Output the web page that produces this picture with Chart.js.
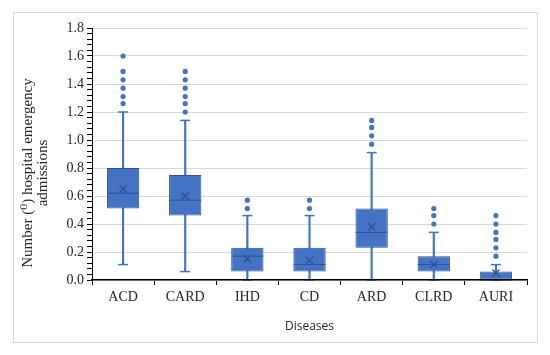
<!DOCTYPE html>
<html>
<head>
<meta charset="utf-8">
<script src="https://cdn.jsdelivr.net/npm/chart.js@4/dist/chart.umd.min.js"></script>
<style>
  body { margin: 0; background: #fff; }
  .wrap { position: relative; width: 550px; height: 355px; }
  .frame { position: absolute; left: 13px; top: 12px; width: 523px; height: 329px; border: 1px solid #d9d9d9; }
  canvas { position: absolute; left: 0; top: 0; }
</style>
</head>
<body>
<div class="wrap">
  <div class="frame"></div>
  <canvas id="chart" width="550" height="355"></canvas>
</div>
<script>
const categories = ["ACD", "CARD", "IHD", "CD", "ARD", "CLRD", "AURI"];
const whiskerLow = [0.11, 0.06, 0, 0, 0, 0, 0];
const q1 = [0.51, 0.46, 0.06, 0.06, 0.23, 0.06, 0];
const median = [0.62, 0.57, 0.17, 0.11, 0.34, 0.11, 0];
const q3 = [0.80, 0.75, 0.23, 0.23, 0.51, 0.17, 0.06];
const whiskerHigh = [1.20, 1.14, 0.46, 0.46, 0.91, 0.34, 0.11];
const mean = [0.65, 0.60, 0.15, 0.14, 0.38, 0.11, 0.05];
const outliers = [
  [1.26, 1.31, 1.37, 1.43, 1.49, 1.60],
  [1.20, 1.26, 1.31, 1.37, 1.43, 1.49],
  [0.51, 0.57],
  [0.51, 0.57],
  [0.97, 1.03, 1.09, 1.14],
  [0.40, 0.46, 0.51],
  [0.17, 0.23, 0.29, 0.34, 0.40, 0.46],
];
const yTitle = ["Number (\u2070) hospital emergency", "admissions"];
const xTitle = "Diseases";

const blue = "#4472C4";
const darkBlue = "#2F528F";
const serif = "'Liberation Serif', 'DejaVu Serif', serif";

const isMajor = (v) => Math.abs(v / 0.2 - Math.round(v / 0.2)) < 1e-6;

// rotated y title, centred a bit lower than the axis like the original
const yTitlePlugin = {
  id: "yTitle",
  afterDraw(chart) {
    const ctx = chart.ctx;
    ctx.save();
    ctx.translate(28, 173);
    ctx.rotate(-Math.PI / 2);
    ctx.font = "15px " + serif;
    ctx.fillStyle = "#262626";
    ctx.textAlign = "center";
    ctx.textBaseline = "middle";
    yTitle.forEach((line, i) => ctx.fillText(line, 0, i * 15));
    ctx.restore();
  },
};

const pts = (arr) => categories.map((c, i) => ({ x: c, y: arr[i] }));
const outlierPts = [];
categories.forEach((c, i) => outliers[i].forEach((v) => outlierPts.push({ x: c, y: v })));

new Chart(document.getElementById("chart"), {
  type: "bar",
  data: {
    labels: categories,
    datasets: [
      {
        label: "outliers",
        type: "scatter",
        data: outlierPts,
        pointStyle: "circle",
        pointRadius: 2.6,
        backgroundColor: blue,
        borderWidth: 0,
        clip: false,
        order: 0,
      },
      {
        label: "mean",
        type: "scatter",
        data: pts(mean),
        pointStyle: "crossRot",
        pointRadius: 5,
        borderColor: darkBlue,
        borderWidth: 1.3,
        clip: false,
        order: 1,
      },
      {
        label: "median",
        type: "scatter",
        data: pts(median),
        pointStyle: "line",
        pointRadius: 16,
        borderColor: darkBlue,
        borderWidth: 1,
        clip: false,
        order: 2,
      },
      {
        label: "caps",
        type: "scatter",
        data: pts(whiskerHigh).concat(pts(whiskerLow)),
        pointStyle: "line",
        pointRadius: 5,
        borderColor: blue,
        borderWidth: 1.5,
        clip: false,
        order: 3,
      },
      {
        label: "box",
        data: categories.map((c, i) => [q1[i], q3[i]]),
        backgroundColor: blue,
        borderColor: darkBlue,
        borderWidth: 1,
        borderSkipped: false,
        barPercentage: 0.52,
        categoryPercentage: 1,
        grouped: false,
        order: 4,
      },
      {
        label: "whisker",
        data: categories.map((c, i) => [whiskerLow[i], whiskerHigh[i]]),
        backgroundColor: blue,
        barThickness: 1.5,
        grouped: false,
        order: 5,
      },
    ],
  },
  options: {
    responsive: false,
    animation: false,
    events: [],
    layout: { padding: { left: 18, right: 23, top: 28, bottom: 21 } },
    scales: {
      x: {
        type: "category",
        offset: true,
        grid: { offset: true, drawOnChartArea: false, tickLength: 5, tickColor: "#000", tickWidth: 1 },
        border: { color: "#000", width: 1.5, z: 1 },
        ticks: { font: { family: serif, size: 14 }, color: "#262626", padding: 4 },
        title: {
          display: true,
          text: xTitle,
          font: { family: "'Open Sans', sans-serif", size: 12 },
          color: "#262626",
          padding: 0,
        },
        afterFit: (scale) => { scale.height = 54; },
      },
      y: {
        min: 0,
        max: 1.8,
        ticks: {
          stepSize: 0.04,
          maxTicksLimit: 100,
          autoSkip: false,
          font: { family: serif, size: 14 },
          color: "#262626",
          padding: 3,
          callback: (v) => (isMajor(v) ? v.toFixed(1) : ""),
        },
        grid: {
          color: (ctx) => (ctx.tick && isMajor(ctx.tick.value) ? "#d9d9d9" : "rgba(0,0,0,0)"),
          lineWidth: 1,
          tickColor: "#000",
          tickLength: 5,
        },
        border: { color: "#000", width: 1 },
        afterFit: (scale) => { scale.width = 74; },
      },
    },
    plugins: {
      legend: { display: false },
      tooltip: { enabled: false },
    },
  },
  plugins: [yTitlePlugin],
});
</script>
</body>
</html>
